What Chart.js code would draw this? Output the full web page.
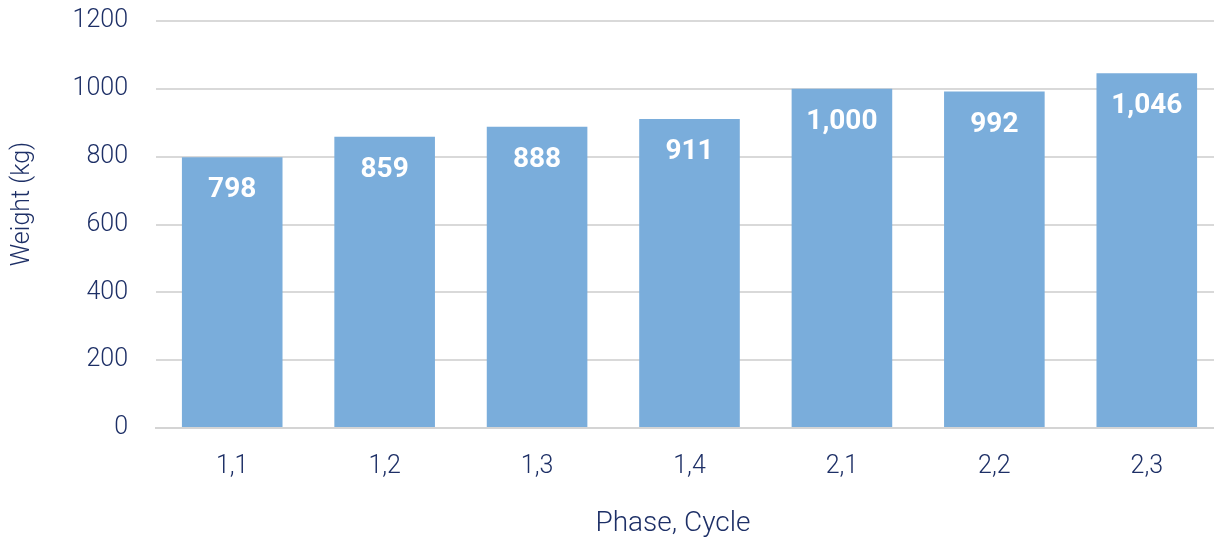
<!DOCTYPE html>
<html>
<head>
<meta charset="utf-8">
<script src="https://cdn.jsdelivr.net/npm/chart.js@4"></script>
<style>
  html, body { margin:0; padding:0; background:#fff; overflow:hidden; }
  #wrap { width:1223px; height:547px; position:relative; }
</style>
</head>
<body>
<div id="wrap"><canvas id="weightChart"></canvas></div>
<script>
// ---------- data ----------
const categories = ['1,1','1,2','1,3','1,4','2,1','2,2','2,3'];
const weights = [798, 859, 888, 911, 1000, 992, 1046];
const yTicks = [0, 200, 400, 600, 800, 1000, 1200];

const navy = '#1d2f66';
const barBlue = '#7aaddb';
const font = "Roboto, 'DejaVu Sans', sans-serif";

// value labels inside bar tops
const valueLabels = {
  id: 'valueLabels',
  afterDatasetsDraw(chart){
    const c = chart.ctx;
    const meta = chart.getDatasetMeta(0);
    c.save();
    c.fillStyle = '#fff';
    c.font = 'bold 28px ' + font;
    c.textAlign = 'center';
    c.textBaseline = 'middle';
    meta.data.forEach((bar, i)=>{
      c.fillText(weights[i].toLocaleString('en-US'), bar.x, bar.y + 33);
    });
    c.restore();
  }
};

// axis titles, placed like the original
const axisTitles = {
  id: 'axisTitles',
  afterDraw(chart){
    const c = chart.ctx;
    c.save();
    c.fillStyle = navy;
    c.textAlign = 'center';
    c.textBaseline = 'middle';
    c.font = '300 28px ' + font;
    c.fillText('Phase, Cycle', 673, 524);
    c.translate(23, 204);
    c.rotate(-Math.PI/2);
    c.font = '300 25px ' + font;
    c.fillText('Weight (kg)', 0, 0);
    c.restore();
  }
};

const ctx = document.getElementById('weightChart').getContext('2d');
new Chart(ctx, {
  type: 'bar',
  data: {
    labels: categories,
    datasets: [{
      data: weights,
      backgroundColor: barBlue,
      borderWidth: 0,
      categoryPercentage: 1,
      barPercentage: 0.66
    }]
  },
  options: {
    responsive: true,
    maintainAspectRatio: false,
    animation: false,
    layout: { padding: { top: 21, bottom: 41, left: 0, right: 0 } },
    plugins: {
      legend: { display:false },
      tooltip: { enabled:false }
    },
    scales: {
      x: {
        grid: { display:false, drawTicks:false },
        border: { color:'#d4d4d4', width:2 },
        ticks: { color:navy, font:{ family:font, size:25, weight:300 }, padding:24 }
      },
      y: {
        min: 0, max: 1200,
        afterBuildTicks(axis){ axis.ticks = yTicks.map(v=>({value:v})); },
        afterFit(axis){ axis.width = 156; },
        grid: { color:'#d9d9d9', lineWidth:2, drawTicks:true, tickLength:28, tickColor:'rgba(0,0,0,0)' },
        border: { display:false },
        ticks: { color:navy, font:{ family:font, size:25, weight:300 }, padding:0, callback: v => String(v) }
      }
    }
  },
  plugins: [valueLabels, axisTitles]
});
</script>
</body>
</html>
